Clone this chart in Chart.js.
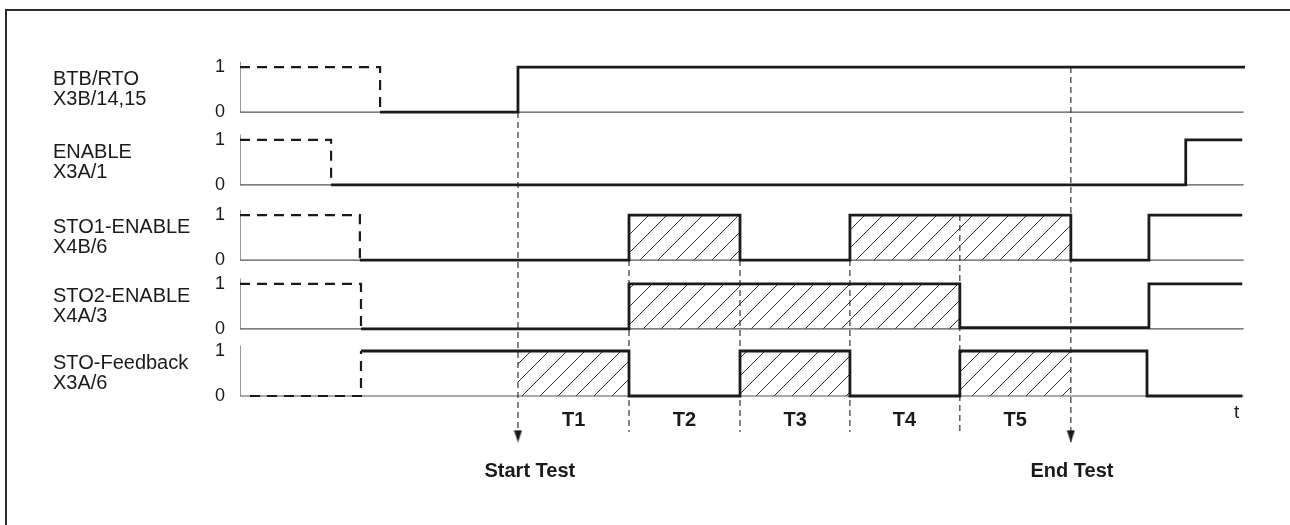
<!DOCTYPE html>
<html>
<head>
<meta charset="utf-8">
<script src="https://cdn.jsdelivr.net/npm/chart.js@4.4.1/dist/chart.umd.min.js"></script>
<style>
  body { margin: 0; background: #fff; }
  #wrap { position: relative; width: 1290px; height: 525px; overflow: hidden; }
  #frame { position: absolute; left: 5px; top: 9px; right: -10px; bottom: -10px;
           border-top: 2px solid #2b2b2b; border-left: 2px solid #2b2b2b; }
  canvas { position: absolute; left: 0; top: 0; }
</style>
</head>
<body>
<div id="wrap">
  <div id="frame"></div>
  <canvas id="timing" width="1290" height="525"></canvas>
</div>
<script>
// signal names (two lines each)
const signalNames = [
  ["BTB/RTO", "X3B/14,15"],
  ["ENABLE", "X3A/1"],
  ["STO1-ENABLE", "X4B/6"],
  ["STO2-ENABLE", "X4A/3"],
  ["STO-Feedback", "X3A/6"],
];

// level changes as [time, level]: previous level holds until time, then jumps
const btbPre = [[0, 1], [5.06, 0]];
const btbMain = [[5.06, 0], [10.04, 1], [36.3, 1]];
const enablePre = [[0, 1], [3.29, 0]];
const enableMain = [[3.29, 0], [34.16, 1], [36.2, 1]];
const sto1Pre = [[0, 1], [4.33, 0]];
const sto1Main = [[4.33, 0], [14.05, 1], [18.06, 0], [22.03, 1], [30.01, 0], [32.83, 1], [36.2, 1]];
const sto2Pre = [[0, 1], [4.37, 0]];
const sto2Main = [[4.37, 0], [14.05, 1], [26.0, 0.03], [32.83, 1], [36.2, 1]];
const feedbackPre = [[0.36, 0], [4.37, 1]];
const feedbackMain = [[4.37, 1], [14.05, 0], [18.06, 1], [22.03, 0], [26.0, 1], [32.76, 0], [36.2, 0]];

const preSignals = [btbPre, enablePre, sto1Pre, sto2Pre, feedbackPre];
const mainSignals = [btbMain, enableMain, sto1Main, sto2Main, feedbackMain];

// hatched (test) intervals
const hatchRows = [2, 2, 3, 4, 4, 4];
const hatchFrom = [14.05, 22.03, 14.05, 10.04, 18.06, 26.0];
const hatchTo = [18.06, 30.01, 26.0, 14.05, 22.03, 30.01];

// vertical time markers
const markerTimes = [10.04, 14.05, 18.06, 22.03, 26.0, 30.01];
const markerFromRow = [0, 2, 2, 2, 2, 0];
const markerFromLevel = [0, 0, 0, 0, 1, 1];
const markerArrow = [true, false, false, false, false, true];

const phaseLabels = ["T1", "T2", "T3", "T4", "T5"];
const phaseTimes = [12.05, 16.05, 20.05, 24.0, 28.0];
const noteTexts = ["Start Test", "End Test"];
const noteTimes = [10.47, 30.05];

// layout
const rowBase = [6.31, 4.69, 3.02, 1.49, 0];
const tMax = 36.3;
const markerBottom = -0.8;
const arrowBottom = -1.03;
const phaseY = -0.55;
const noteY = -1.68;
const font = "'Liberation Sans', Arial, Helvetica, sans-serif";
const ink = "#1a1a1a";

const canvas = document.getElementById("timing");
const ctx = canvas.getContext("2d");

function makeHatch() {
  const c = document.createElement("canvas");
  c.width = 18;
  c.height = 18;
  const g = c.getContext("2d");
  g.strokeStyle = "#333";
  g.lineWidth = 1;
  g.beginPath();
  g.moveTo(0, 18); g.lineTo(18, 0);
  g.moveTo(-2, 2); g.lineTo(2, -2);
  g.moveTo(16, 20); g.lineTo(20, 16);
  g.stroke();
  return ctx.createPattern(c, "repeat");
}

function makeArrow() {
  // arrow drawn in the upper half so its tip sits on the point
  const c = document.createElement("canvas");
  c.width = 9;
  c.height = 26;
  const g = c.getContext("2d");
  g.fillStyle = ink;
  g.beginPath();
  g.moveTo(0.5, 1); g.lineTo(8.5, 1); g.lineTo(4.5, 13);
  g.closePath();
  g.fill();
  return c;
}

const hatch = makeHatch();
const arrow = makeArrow();

const toPoints = (list, row) => list.map(([t, v]) => ({ x: t, y: rowBase[row] + v }));

const datasets = [];

mainSignals.forEach((sig, row) => {
  datasets.push({
    data: toPoints(sig, row),
    stepped: true,
    borderColor: ink,
    borderWidth: 2.8,
    order: 1,
  });
});

preSignals.forEach((sig, row) => {
  datasets.push({
    data: toPoints(sig, row),
    stepped: true,
    borderColor: ink,
    borderWidth: 2.2,
    borderDash: [10, 7],
    order: 1,
  });
});

markerTimes.forEach((t, i) => {
  const top = rowBase[markerFromRow[i]] + markerFromLevel[i];
  const bottom = markerArrow[i] ? arrowBottom : markerBottom;
  datasets.push({
    data: [{ x: t, y: top }, { x: t, y: bottom }],
    borderColor: "#333",
    borderWidth: 1.2,
    borderDash: [6, 4],
    pointStyle: arrow,
    pointRadius: (c) => (markerArrow[i] && c.dataIndex === 1 ? 5 : 0),
    order: 2,
  });
});

rowBase.forEach((base) => {
  datasets.push({
    data: [{ x: 0, y: base + 1.12 }, { x: 0, y: base }, { x: tMax - 0.05, y: base }],
    borderColor: "#555",
    borderWidth: 1.2,
    order: 3,
  });
});

hatchRows.forEach((row, i) => {
  datasets.push({
    data: [{ x: hatchFrom[i], y: rowBase[row] + 1 }, { x: hatchTo[i], y: rowBase[row] + 1 }],
    borderWidth: 0,
    backgroundColor: hatch,
    fill: { value: rowBase[row] },
    order: 4,
  });
});

const notesPlugin = {
  id: "notes",
  afterDraw(chart) {
    const { x, y } = chart.scales;
    const c = chart.ctx;
    c.save();
    c.fillStyle = ink;
    c.textAlign = "center";
    c.textBaseline = "middle";
    c.font = "bold 20px " + font;
    phaseLabels.forEach((label, i) => {
      c.fillText(label, x.getPixelForValue(phaseTimes[i]), y.getPixelForValue(phaseY));
    });
    noteTexts.forEach((label, i) => {
      c.fillText(label, x.getPixelForValue(noteTimes[i]), y.getPixelForValue(noteY));
    });
    c.font = "19px " + font;
    c.fillText("t", x.getPixelForValue(36.0), y.getPixelForValue(-0.38));
    c.restore();
  },
};

new Chart(ctx, {
  type: "line",
  data: { datasets },
  plugins: [notesPlugin],
  options: {
    responsive: false,
    animation: false,
    devicePixelRatio: 1,
    layout: { padding: { left: 53, top: 58.5, right: 45, bottom: 61.5 } },
    elements: { point: { radius: 0 }, line: { tension: 0 } },
    plugins: { legend: { display: false }, tooltip: { enabled: false } },
    scales: {
      x: { type: "linear", min: 0, max: tMax, display: false },
      y: {
        min: -1.5,
        max: 7.5,
        weight: 0,
        grid: { display: false, drawTicks: false },
        border: { display: false },
        afterBuildTicks: (scale) => {
          scale.ticks = rowBase.flatMap((b) => [{ value: b }, { value: b + 1 }]);
        },
        afterFit: (scale) => { scale.width = 37; },
        ticks: {
          autoSkip: false,
          padding: 15,
          color: ink,
          font: { family: font, size: 18 },
          callback: (v, i) => (i % 2 === 0 ? "0" : "1"),
        },
      },
      names: {
        position: "left",
        min: -1.5,
        max: 7.5,
        weight: 10,
        grid: { display: false, drawTicks: false },
        border: { display: false },
        afterBuildTicks: (scale) => {
          scale.ticks = rowBase.map((b) => ({ value: b + 0.5 }));
        },
        afterFit: (scale) => { scale.width = 150; },
        ticks: {
          autoSkip: false,
          crossAlign: "far",
          color: ink,
          font: { family: font, size: 20, lineHeight: 1.0 },
          callback: (v, i) => signalNames[i],
        },
      },
    },
  },
});
</script>
</body>
</html>
